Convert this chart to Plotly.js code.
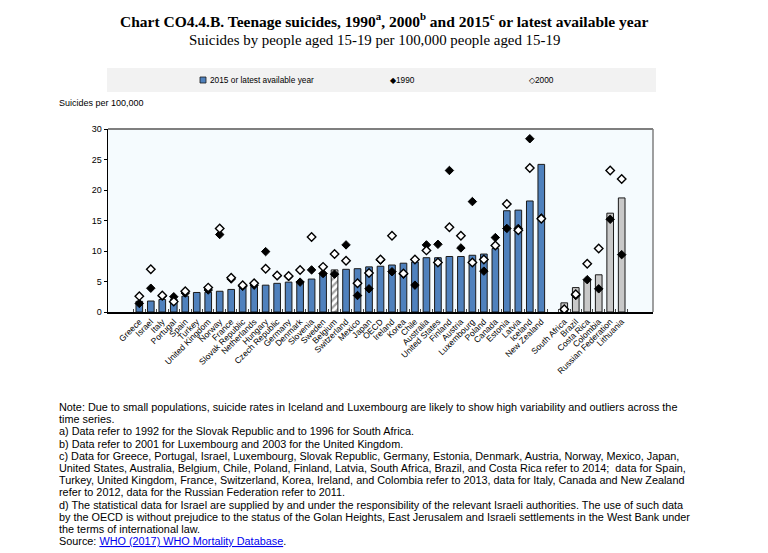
<!DOCTYPE html>
<html>
<head>
<meta charset="utf-8">
<script src="https://cdn.plot.ly/plotly-3.0.1.min.js"></script>
<style>html,body{margin:0;padding:0;background:#fff;}#chart{width:768px;height:553px;}</style>
</head>
<body>
<div id="chart"></div>
<script>
var categories = ['Greece','Israel','Italy','Portugal','Spain','Turkey','United Kingdom','Norway','France','Slovak Republic','Netherlands','Hungary','Czech Republic','Germany','Denmark','Slovenia','Sweden','Belgium','Switzerland','Mexico','Japan','OECD','Ireland','Korea','Chile','Australia','United States','Finland','Austria','Luxembourg','Poland','Canada','Estonia','Latvia','Iceland','New Zealand',' ','South Africa','Brazil','Costa Rica','Colombia','Russian Federation','Lithuania'];
var v2015 = [1.75,1.8,2.05,2.1,2.6,3.2,3.25,3.4,3.7,4.2,4.2,4.4,4.7,4.9,5.0,5.4,6.3,6.9,7.0,7.1,7.4,7.5,7.7,8.0,8.2,8.9,8.9,9.1,9.1,9.3,9.5,10.4,16.6,16.7,18.2,24.2,null,1.5,4.0,5.3,6.1,16.2,18.7];
var v1990 = [1.4,3.9,2.6,2.5,3.1,null,3.6,12.7,5.4,4.2,4.4,9.9,5.9,5.8,4.9,6.9,6.3,6.2,11.0,2.7,3.8,8.5,6.6,6.2,4.4,11.0,11.1,23.2,10.5,18.1,6.7,12.2,13.7,13.7,28.4,15.4,null,0.4,2.7,5.3,3.8,15.2,9.4];
var v2000 = [2.6,7.0,2.7,1.7,3.4,null,4.0,13.7,5.6,4.4,4.7,7.1,6.0,5.9,6.9,12.3,7.4,9.5,8.4,4.7,6.4,8.6,12.5,6.3,8.6,10.1,8.1,13.9,12.5,8.1,8.6,10.9,17.7,13.4,23.6,15.3,null,0.45,2.9,7.9,10.4,23.2,21.8];
var seriesNames = ['2015 or latest available year', '1990', '2000'];
var partnerStart = 37;
var hatchedIndex = 17;

var notes = [
 'Note: Due to small populations, suicide rates in Iceland and Luxembourg are likely to show high variability and outliers across the',
 'time series.',
 'a) Data refer to 1992 for the Slovak Republic and to 1996 for South Africa.',
 'b) Data refer to 2001 for Luxembourg and 2003 for the United Kingdom.',
 'c) Data for Greece, Portugal, Israel, Luxembourg, Slovak Republic, Germany, Estonia, Denmark, Austria, Norway, Mexico, Japan,',
 'United States, Australia, Belgium, Chile, Poland, Finland, Latvia, South Africa, Brazil, and Costa Rica refer to 2014;  data for Spain,',
 'Turkey, United Kingdom, France, Switzerland, Korea, Ireland, and Colombia refer to 2013, data for Italy, Canada and New Zealand',
 'refer to 2012, data for the Russian Federation refer to 2011.',
 'd) The statistical data for Israel are supplied by and under the responsibility of the relevant Israeli authorities. The use of such data',
 'by the OECD is without prejudice to the status of the Golan Heights, East Jerusalem and Israeli settlements in the West Bank under',
 'the terms of international law.',
 'Source: <span style="color:#0000EE;text-decoration:underline">WHO (2017) WHO Mortality Database</span>.'
];

var L = 108, R = 653, T = 129, B = 312;
function px(x){ return (x - L) / (R - L); }
function py(y){ return (B - y) / (B - T); }

var barColors = categories.map(function(c, i){
  if (i === hatchedIndex) return '#ffffff';
  return i >= partnerStart ? '#C8C8C8' : '#4F81BD';
});
var patterns = categories.map(function(c, i){ return i === hatchedIndex ? '/' : ''; });

var font = 'Liberation Sans, Arial, sans-serif';

var traces = [
  {type:'bar', name:seriesNames[0], x:categories, y:v2015,
   marker:{color:barColors, line:{color:'#1a1a1a', width:1},
           pattern:{shape:patterns, fillmode:'overlay', fgcolor:'#000000', size:5, solidity:0.45}}},
  {type:'scatter', mode:'markers', name:seriesNames[1], x:categories, y:v1990,
   marker:{symbol:'diamond', size:6.5, color:'#000', line:{color:'#000', width:1}}},
  {type:'scatter', mode:'markers', name:seriesNames[2], x:categories, y:v2000,
   marker:{symbol:'diamond', size:6.5, color:'#fff', line:{color:'#000', width:1.4}}}
];

var annotations = [
  {xref:'paper', yref:'paper', x:px(384), y:py(20), xanchor:'center', yanchor:'middle', showarrow:false,
   text:'<b>Chart CO4.4.B. Teenage suicides, 1990<sup>a</sup>, 2000<sup>b</sup> and 2015<sup>c</sup> or latest available year</b>',
   font:{family:'Liberation Serif, Times New Roman, serif', size:15.5, color:'#000'}},
  {xref:'paper', yref:'paper', x:px(374), y:py(40), xanchor:'center', yanchor:'middle', showarrow:false,
   text:'Suicides by people aged 15-19 per 100,000 people aged 15-19',
   font:{family:'Liberation Serif, Times New Roman, serif', size:14.9, color:'#000'}},
  {xref:'paper', yref:'paper', x:px(57), y:py(103), xanchor:'left', yanchor:'middle', showarrow:false,
   text:'Suicides per 100,000', font:{family:font, size:9, color:'#000'}},
  {xref:'paper', yref:'paper', x:px(208), y:py(80), xanchor:'left', yanchor:'middle', showarrow:false,
   text:seriesNames[0], font:{family:font, size:8.3, color:'#000'}},
  {xref:'paper', yref:'paper', x:px(388), y:py(80), xanchor:'left', yanchor:'middle', showarrow:false,
   text:'◆' + seriesNames[1], font:{family:font, size:8.3, color:'#000'}},
  {xref:'paper', yref:'paper', x:px(527), y:py(80), xanchor:'left', yanchor:'middle', showarrow:false,
   text:'◇' + seriesNames[2], font:{family:font, size:8.3, color:'#000'}}
];
notes.forEach(function(t, i){
  annotations.push({xref:'paper', yref:'paper', x:px(57), y:py(407 + i*12.2), xanchor:'left', yanchor:'middle',
    showarrow:false, text:t, font:{family:font, size:10.85, color:'#000'}});
});

var layout = {
  width:768, height:553,
  margin:{l:L, r:768-R, t:T, b:553-B, pad:0},
  paper_bgcolor:'#ffffff', plot_bgcolor:'#F5FBFE',
  bargap:0.42,
  showlegend:false,
  xaxis:{type:'category', tickangle:-45, tickfont:{family:font, size:8.5, color:'#000'},
    showline:true, linecolor:'#000', linewidth:1.5, ticks:'inside', ticklen:3, tickcolor:'#444',
    tickson:'boundaries', showgrid:false, zeroline:false, fixedrange:true, automargin:false},
  yaxis:{range:[0,30], dtick:5, tickfont:{family:font, size:9, color:'#000'},
    showline:true, linecolor:'#000', linewidth:1.5, ticks:'outside', ticklen:3, tickcolor:'#000',
    showgrid:false, zeroline:false, fixedrange:true, automargin:false},
  shapes:[
    {type:'rect', xref:'paper', yref:'paper', x0:px(107), x1:px(656), y0:py(68), y1:py(92),
     fillcolor:'#F2F2F2', line:{width:0}, layer:'below'},
    {type:'rect', xref:'paper', yref:'paper', x0:px(200), x1:px(206), y0:py(83), y1:py(77),
     fillcolor:'#4F81BD', line:{color:'#1a1a1a', width:0.8}},
    {type:'line', xref:'paper', yref:'paper', x0:0, x1:1, y0:1, y1:1, line:{color:'#7F7F7F', width:2}},
    {type:'line', xref:'paper', yref:'paper', x0:1, x1:1, y0:0, y1:1, line:{color:'#7F7F7F', width:1.5}}
  ],
  annotations:annotations
};

Plotly.newPlot('chart', traces, layout, {displayModeBar:false, staticPlot:true});
</script>
</body>
</html>
